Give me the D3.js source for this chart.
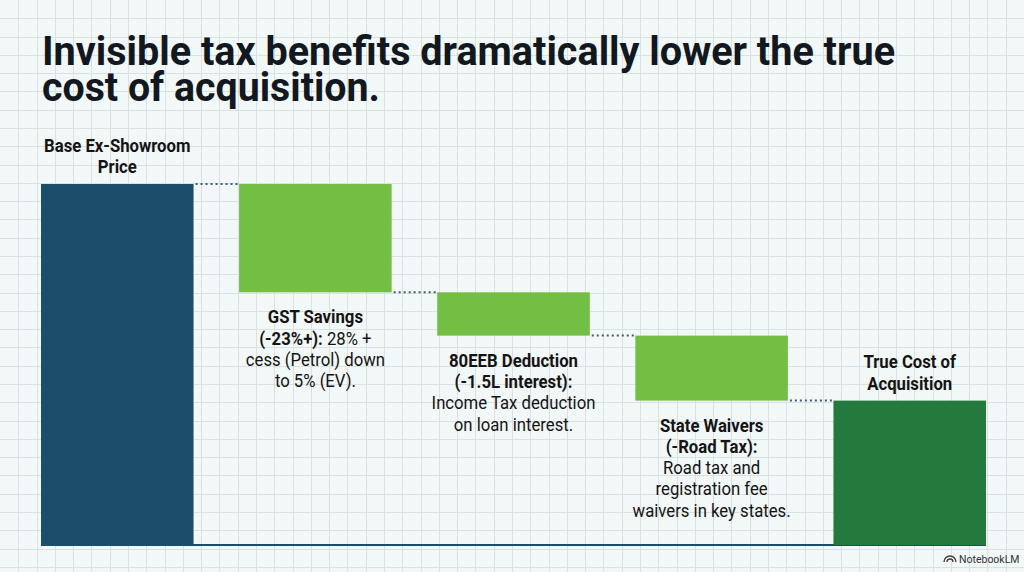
<!DOCTYPE html>
<html>
<head>
<meta charset="utf-8">
<script src="https://cdn.jsdelivr.net/npm/d3@7"></script>
<style>
  html, body { margin: 0; padding: 0; background: #f2f7f7; }
  svg { display: block; font-family: Roboto, "Noto Sans", sans-serif; }
</style>
</head>
<body>
<svg id="chart"></svg>
<script>
const size = { w: 1024, h: 572 };

// data
const categories = ['base', 'gst', 'eeb', 'state', 'true'];
const steps = [100, -30, -12, -18, 40];   // base, three deductions, total
const kinds = ['total', 'drop', 'drop', 'drop', 'total'];
const titleLines = ['Invisible tax benefits dramatically lower the true', 'cost of acquisition.'];
// label lines: each line is a list of [text, bold]
const labels = [
    [[['Base Ex-Showroom', 1]], [['Price', 1]]],
    [[['GST Savings', 1]], [['(-23%+):', 1], [' 28% +', 0]], [['cess (Petrol) down', 0]], [['to 5% (EV).', 0]]],
    [[['80EEB Deduction', 1]], [['(-1.5L interest):', 1]], [['Income Tax deduction', 0]], [['on loan interest.', 0]]],
    [[['State Waivers', 1]], [['(-Road Tax):', 1]], [['Road tax and', 0]], [['registration fee', 0]], [['waivers in key states.', 0]]],
    [[['True Cost of', 1]], [['Acquisition', 1]]]
];
const colors = ['#1b4e69', '#72bf44', '#72bf44', '#72bf44', '#247a3c'];

const svg = d3.select('svg#chart')
    .attr('width', size.w)
    .attr('height', size.h);

// grid paper background
const gridStep = size.w / 56;
svg.append('rect').attr('width', size.w).attr('height', size.h).attr('fill', '#f2f7f7');
const gridG = svg.append('g').attr('stroke', '#d8e2e2').attr('stroke-width', 1);
gridG.selectAll('line.v')
    .data(d3.range(1, 56))
    .join('line')
    .attr('x1', d => Math.round(d * gridStep) + 0.5).attr('x2', d => Math.round(d * gridStep) + 0.5)
    .attr('y1', 0).attr('y2', size.h);
gridG.selectAll('line.h')
    .data(d3.range(1, 32))
    .join('line')
    .attr('y1', d => Math.round(d * gridStep) + 0.5).attr('y2', d => Math.round(d * gridStep) + 0.5)
    .attr('x1', 0).attr('x2', size.w);

// title, squeezed to the reference's width (one text, two lines)
const title = svg.append('text')
    .attr('font-size', 40)
    .attr('font-weight', 700)
    .attr('fill', '#111820');
titleLines.forEach((t, i) => {
    title.append('tspan')
        .attr('x', 42)
        .attr('y', 65 + i * 36)
        .attr('textLength', i === 0 ? 853 : 338)
        .attr('lengthAdjust', 'spacingAndGlyphs')
        .text(t);
});

// running totals for the waterfall
let running = 0;
const bars = steps.map((v, i) => {
    let y0, y1;
    if (kinds[i] === 'total') { y0 = 0; y1 = v; running = v; }
    else { y1 = running; y0 = running + v; running = y0; }
    return { key: categories[i], y0, y1, color: colors[i], label: labels[i], kind: kinds[i] };
});

const x = d3.scaleBand().domain(categories).range([41, 986]).paddingInner(0.23).paddingOuter(0);
const y = d3.scaleLinear().domain([0, 100]).range([545, 184]);

const chartG = svg.append('g');

// connectors
chartG.selectAll('line.conn')
    .data(bars.slice(0, -1))
    .join('line')
    .attr('x1', d => x(d.key) + x.bandwidth() + 2)
    .attr('x2', (d, i) => x(categories[i + 1]) - 1)
    .attr('y1', d => y(d.kind === 'total' ? d.y1 : d.y0))
    .attr('y2', d => y(d.kind === 'total' ? d.y1 : d.y0))
    .attr('stroke', '#3f5d72')
    .attr('stroke-width', 2)
    .attr('stroke-dasharray', '2,3');

// baseline
chartG.append('line')
    .attr('x1', x.range()[0]).attr('x2', x.range()[1])
    .attr('y1', y(0)).attr('y2', y(0))
    .attr('stroke', '#1b4e69').attr('stroke-width', 2);

chartG.selectAll('rect.bar')
    .data(bars)
    .join('rect')
    .attr('x', d => x(d.key))
    .attr('width', x.bandwidth())
    .attr('y', d => y(d.y1))
    .attr('height', d => y(d.y0) - y(d.y1))
    .attr('fill', d => d.color);

// labels: totals above the bar, deductions below
const lineH = 21.3;
bars.forEach(d => {
    const cx = x(d.key) + x.bandwidth() / 2;
    const first = d.kind === 'total'
        ? y(d.y1) - 11 - (d.label.length - 1) * lineH
        : y(d.y0) + 31;
    const g = chartG.append('g')
        .attr('transform', `translate(${cx}, ${first}) scale(0.88, 1)`);
    const t = g.append('text')
        .attr('text-anchor', 'middle')
        .attr('font-size', 19)
        .attr('fill', '#141414');
    d.label.forEach((line, li) => {
        line.forEach((seg, si) => {
            const ts = t.append('tspan')
                .attr('font-weight', seg[1] ? 700 : 400)
                .text(seg[0]);
            if (si === 0) ts.attr('x', 0).attr('y', li * lineH);
        });
    });
});

// watermark
const wm = svg.append('g').attr('transform', 'translate(944, 562)');
wm.append('path')
    .attr('d', 'M0,0 a6,6 0 0 1 12,0 M3,0 a3,3 0 0 1 6,0')
    .attr('fill', 'none').attr('stroke', '#444').attr('stroke-width', 1.4);
wm.append('text')
    .attr('x', 15).attr('y', 1)
    .attr('font-size', 10.5)
    .attr('fill', '#333')
    .text('NotebookLM');
</script>
</body>
</html>
